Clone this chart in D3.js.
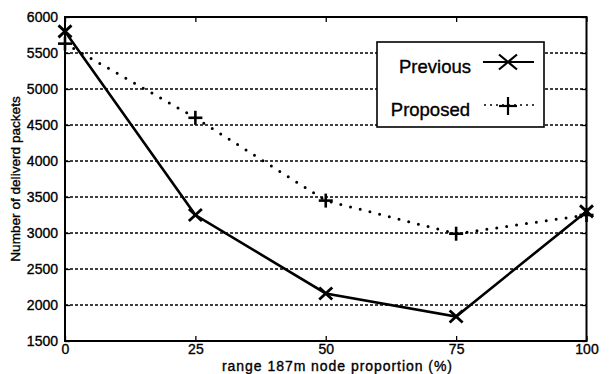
<!DOCTYPE html>
<html>
<head>
<meta charset="utf-8">
<script src="https://cdn.jsdelivr.net/npm/d3@7"></script>
<style>
  html, body { margin: 0; padding: 0; background: #fff; }
  svg { display: block; }
  text { font-family: "Liberation Sans", Arial, Helvetica, sans-serif; fill: #000; stroke: #000; stroke-width: 0.35px; }
</style>
</head>
<body>
<svg id="chart" width="609" height="374"></svg>
<script>
const categories = [0, 25, 50, 75, 100];
const previousValues = [5800, 3250, 2160, 1840, 3300];
const proposedValues = [5630, 4600, 3450, 2990, 3250];
const xTickLabels = ["0", "25", "50", "75", "100"];
const yTicks = [1500, 2000, 2500, 3000, 3500, 4000, 4500, 5000, 5500, 6000];
const seriesNames = ["Previous", "Proposed"];
const xAxisTitle = "range 187m node proportion (%)";
const yAxisTitle = "Number of deliverd packets";

const svg = d3.select("#chart");
const L = 65, R = 586.5, T = 17, B = 341;
const x = d3.scaleLinear().domain([0, 100]).range([L, R]);
const y = d3.scaleLinear().domain([1500, 6000]).range([B, T]);

// grid lines (horizontal, dotted)
svg.append("g").selectAll("line")
  .data(yTicks.slice(1, -1))
  .join("line")
  .attr("x1", L).attr("x2", R)
  .attr("y1", d => y(d)).attr("y2", d => y(d))
  .attr("stroke", "#000").attr("stroke-width", 1.3)
  .attr("stroke-dasharray", "3,2");

// axes using d3 axis (inner ticks)
const xAxisB = d3.axisBottom(x).tickValues(categories).tickFormat((d, i) => xTickLabels[i]).tickSizeInner(-5).tickSizeOuter(0).tickPadding(3);
const gxb = svg.append("g").attr("transform", `translate(0,${B})`).call(xAxisB);
const xAxisT = d3.axisTop(x).tickValues(categories).tickFormat("").tickSizeInner(-5).tickSizeOuter(0);
const gxt = svg.append("g").attr("transform", `translate(0,${T})`).call(xAxisT);
const yAxisL = d3.axisLeft(y).tickValues(yTicks).tickFormat(d3.format("d")).tickSizeInner(-5).tickSizeOuter(0).tickPadding(7);
const gyl = svg.append("g").attr("transform", `translate(${L},0)`).call(yAxisL);
const yAxisR = d3.axisRight(y).tickValues(yTicks).tickFormat("").tickSizeInner(-5).tickSizeOuter(0);
const gyr = svg.append("g").attr("transform", `translate(${R},0)`).call(yAxisR);

[gxb, gxt, gyl, gyr].forEach(g => {
  g.select(".domain").remove();
  g.selectAll(".tick line").attr("stroke", "#000").attr("stroke-width", 1.3);
  g.selectAll("text").attr("font-size", 14).attr("font-family", "Liberation Sans, Arial, sans-serif").attr("fill", "#000");
});

// box frame
svg.append("rect").attr("x", L).attr("y", T).attr("width", R - L).attr("height", B - T)
  .attr("fill", "none").attr("stroke", "#000").attr("stroke-width", 2);

// lines
const lineGen = d3.line().x(d => x(d[0])).y(d => y(d[1]));
const prevData = categories.map((c, i) => [c, previousValues[i]]);
const propData = categories.map((c, i) => [c, proposedValues[i]]);

svg.append("path").datum(propData).attr("d", lineGen)
  .attr("fill", "none").attr("stroke", "#000").attr("stroke-width", 3)
  .attr("stroke-linecap", "round").attr("stroke-dasharray", "0,10");

svg.append("path").datum(prevData).attr("d", lineGen)
  .attr("fill", "none").attr("stroke", "#000").attr("stroke-width", 2.6);

function drawPlus(g, cx, cy, s, w) {
  g.append("line").attr("x1", cx - s).attr("x2", cx + s).attr("y1", cy).attr("y2", cy).attr("stroke", "#000").attr("stroke-width", w);
  g.append("line").attr("x1", cx).attr("x2", cx).attr("y1", cy - s).attr("y2", cy + s).attr("stroke", "#000").attr("stroke-width", w);
}
function drawX(g, cx, cy, sx, sy, w) {
  g.append("line").attr("x1", cx - sx).attr("x2", cx + sx).attr("y1", cy - sy).attr("y2", cy + sy).attr("stroke", "#000").attr("stroke-width", w);
  g.append("line").attr("x1", cx - sx).attr("x2", cx + sx).attr("y1", cy + sy).attr("y2", cy - sy).attr("stroke", "#000").attr("stroke-width", w);
}
const mk = svg.append("g");
propData.forEach(d => drawPlus(mk, x(d[0]), y(d[1]), 7, 2.6));
prevData.forEach(d => drawX(mk, x(d[0]), y(d[1]), 6.5, 6, 2.8));

// legend
const leg = svg.append("g");
leg.append("rect").attr("x", 377).attr("y", 42).attr("width", 167).attr("height", 85)
  .attr("fill", "#fff").attr("stroke", "#000").attr("stroke-width", 1.6);
leg.append("text").attr("x", 471).attr("y", 73).attr("text-anchor", "end").attr("font-size", 18.5).text(seriesNames[0]);
leg.append("text").attr("x", 470).attr("y", 116).attr("text-anchor", "end").attr("font-size", 18.5).text(seriesNames[1]);
leg.append("line").attr("x1", 483).attr("x2", 534).attr("y1", 62).attr("y2", 62).attr("stroke", "#000").attr("stroke-width", 1.8);
drawX(leg, 508, 62, 9, 7.5, 2.2);
leg.append("line").attr("x1", 484).attr("x2", 534).attr("y1", 105).attr("y2", 105).attr("stroke", "#000").attr("stroke-width", 1.6)
  .attr("stroke-dasharray", "2,4");
drawPlus(leg, 508, 106, 9, 2.2);

// axis titles
svg.append("text").attr("x", 337).attr("y", 371).attr("text-anchor", "middle").attr("font-size", 14)
  .attr("textLength", 230).attr("lengthAdjust", "spacing").text(xAxisTitle);
svg.append("text").attr("transform", "translate(20,179) rotate(-90)").attr("text-anchor", "middle").attr("font-size", 13.6).text(yAxisTitle);
</script>
</body>
</html>
